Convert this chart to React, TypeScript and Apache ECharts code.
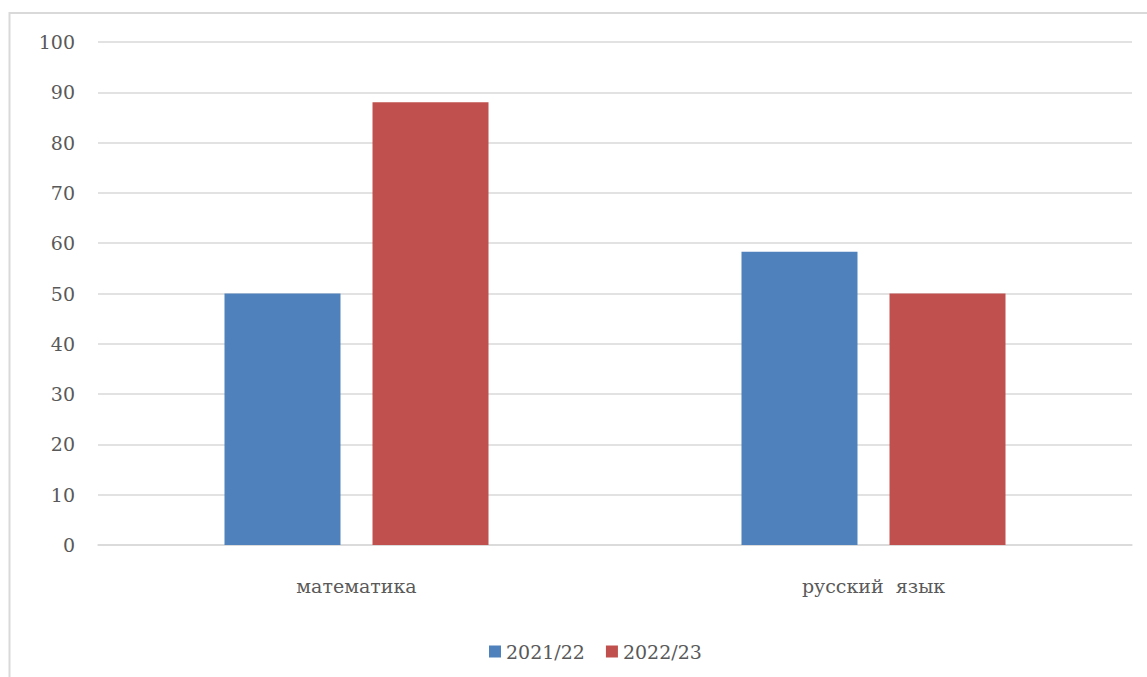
import React, { useEffect, useRef } from "react";
import * as echarts from "echarts";

const categories = ["математика", "русский  язык"];
const seriesNames = ["2021/22", "2022/23"];
const values2021 = [50, 58.3];
const values2022 = [88, 50];
const colors = ["#4F81BD", "#C0504D"];

const FONT = "DejaVu Serif";

export default function App() {
  const ref = useRef<HTMLDivElement>(null);
  useEffect(() => {
    document.body.style.margin = "0";
    if (!ref.current) return;
    const chart = echarts.init(ref.current, undefined, { renderer: "svg" });
    chart.setOption({
      animation: false,
      backgroundColor: "#ffffff",
      textStyle: { fontFamily: FONT },
      grid: { left: 98, right: 15, top: 42, bottom: 132 },
      legend: {
        left: 484,
        top: 637,
        itemWidth: 12,
        itemHeight: 12,
        itemGap: 21,
        icon: "rect",
        textStyle: { fontFamily: FONT, fontSize: 19, color: "#595959" },
        data: seriesNames,
      },
      xAxis: {
        type: "category",
        data: categories,
        axisLine: { lineStyle: { color: "#d9d9d9", width: 1.5 } },
        axisTick: { show: false },
        axisLabel: { fontFamily: FONT, fontSize: 19, color: "#595959", margin: 31 },
      },
      yAxis: {
        type: "value",
        min: 0,
        max: 100,
        interval: 10,
        axisLine: { show: false },
        axisTick: { show: false },
        splitLine: { lineStyle: { color: "#d9d9d9", width: 1.5 } },
        axisLabel: { fontFamily: FONT, fontSize: 19, color: "#595959", margin: 23 },
      },
      series: [
        {
          name: seriesNames[0],
          type: "bar",
          data: values2021,
          barWidth: 116,
          barGap: "27.6%",
          itemStyle: { color: colors[0] },
        },
        {
          name: seriesNames[1],
          type: "bar",
          data: values2022,
          barWidth: 116,
          barGap: "27.6%",
          itemStyle: { color: colors[1] },
        },
      ],
      graphic: [
        {
          type: "line",
          shape: { x1: 9, y1: 13, x2: 1147, y2: 13 },
          style: { stroke: "#d9d9d9", lineWidth: 2 },
          silent: true,
        },
        {
          type: "line",
          shape: { x1: 9.5, y1: 12, x2: 9.5, y2: 677 },
          style: { stroke: "#d9d9d9", lineWidth: 2 },
          silent: true,
        },
      ],
    });
    return () => chart.dispose();
  }, []);
  return <div ref={ref} style={{ width: 1147, height: 677 }} />;
}
